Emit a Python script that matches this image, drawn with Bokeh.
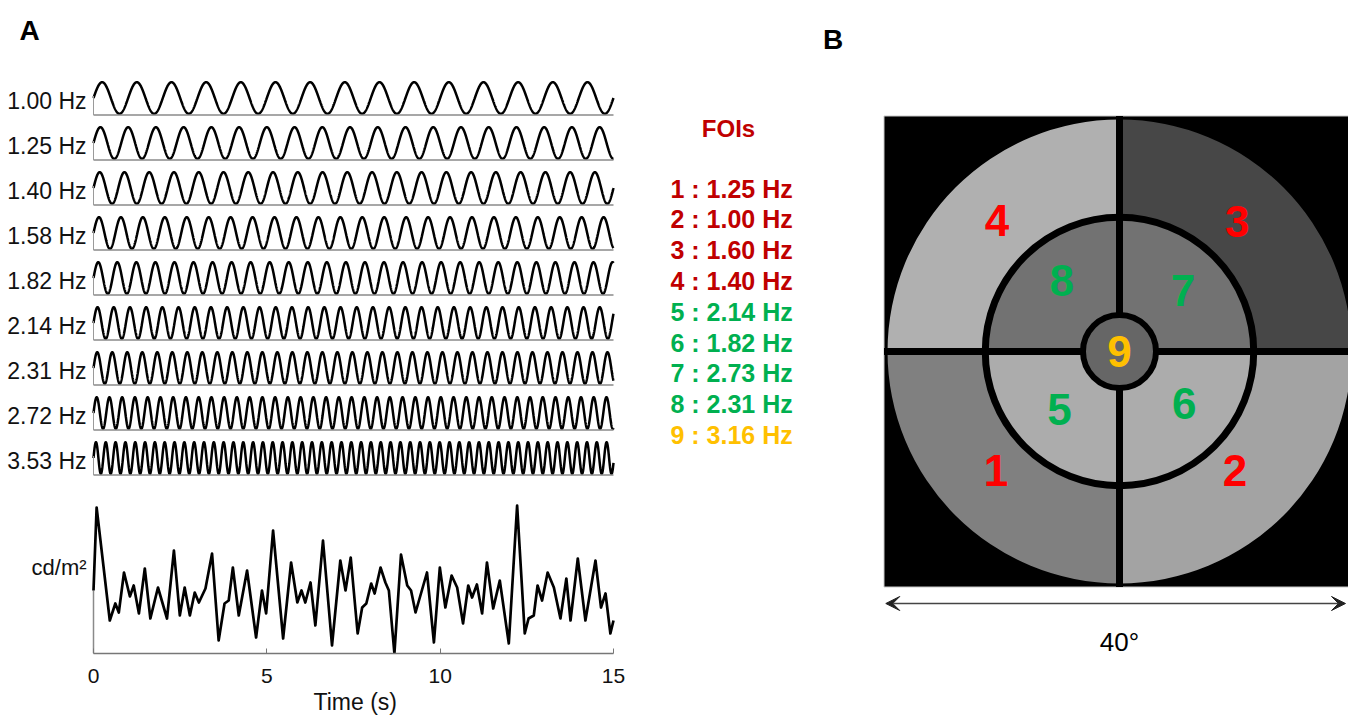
import numpy as np
from bokeh.plotting import figure
from bokeh.layouts import row
from bokeh.models import Range1d, FixedTicker, ColumnDataSource, Arrow, VeeHead, Title
from bokeh.core.properties import value
from bokeh.embed import file_html
from bokeh.resources import INLINE

FONT = "Liberation Sans"

# ---------------- Panel A data ----------------
stim_freqs = [1.00, 1.25, 1.40, 1.58, 1.82, 2.14, 2.31, 2.72, 3.53]
stim_labels = ["%.2f Hz" % f for f in stim_freqs]
duration = 15
time_ticks = [0, 5, 10, 15]

# luminance trace (arbitrary units above the axis)
trace_t = [0.00, 0.09, 0.47, 0.63, 0.73, 0.88, 1.05, 1.16, 1.31, 1.48, 1.64, 1.86,
           2.12, 2.32, 2.49, 2.63, 2.78, 2.92, 3.04, 3.23, 3.42, 3.61, 3.78, 3.90,
           4.02, 4.19, 4.43, 4.69, 4.86, 4.98, 5.18, 5.47, 5.70, 5.88, 6.00, 6.11,
           6.26, 6.40, 6.62, 6.88, 7.12, 7.27, 7.42, 7.62, 7.75, 7.87, 8.01, 8.11,
           8.28, 8.42, 8.52, 8.68, 8.87, 9.05, 9.16, 9.29, 9.62, 9.82, 9.99, 10.15,
           10.33, 10.49, 10.66, 10.81, 10.92, 11.06, 11.21, 11.35, 11.53, 11.72, 11.98,
           12.22, 12.44, 12.55, 12.70, 12.81, 12.94, 13.10, 13.28, 13.47, 13.64, 13.76,
           13.97, 14.19, 14.48, 14.64, 14.77, 14.91, 15.00]
trace_v = [63, 146, 33, 50, 41, 81, 57, 68, 40, 85, 35, 66,
           35, 103, 38, 66, 38, 61, 51, 65, 100, 13, 50, 53,
           86, 38, 83, 16, 63, 40, 123, 15, 91, 51, 63, 51,
           71, 28, 113, 8, 93, 63, 96, 20, 46, 50, 70, 60,
           86, 71, 63, 0, 99, 68, 63, 41, 81, 11, 86, 46,
           78, 66, 30, 68, 56, 69, 40, 91, 45, 73, 10,
           148, 20, 35, 38, 68, 53, 81, 66, 35, 75, 33,
           95, 33, 93, 46, 60, 20, 33]

# ---------------- Panel B data ----------------
foi_region = [1, 2, 3, 4, 5, 6, 7, 8, 9]
foi_freq = [1.25, 1.00, 1.60, 1.40, 2.14, 1.82, 2.73, 2.31, 3.16]
foi_list_color = ["#c00000"] * 4 + ["#00b050"] * 4 + ["#ffc000"]
region_num_color = ["#ff0000"] * 4 + ["#00b050"] * 4 + ["#ffc000"]
region_gray = ["#808080", "#a3a3a3", "#474747", "#b0b0b0",
               "#acacac", "#acacac", "#727272", "#727272", "#666666"]
field_deg = 40
r_center, r_mid, r_outer = 3.1, 11.4, 19.7

# ---------------- layout constants ----------------
H = 715
A_W = 640
F = 653                      # expected frame height (frame bottom = axis line)
PX_PER_S = 520 / 15.0
t_left = -93 / PX_PER_S
t_right = t_left + A_W / PX_PER_S

def ya(page_y):
    return F - page_y

pa = figure(width=A_W, height=H, x_range=Range1d(t_left, t_right),
            y_range=Range1d(0, F), output_backend="svg",
            toolbar_location=None, y_axis_location=None, min_border=0,
            outline_line_color=None)
pa.grid.visible = False

amp = 15.8
centers = [ya(97.5 + 45.0 * i) for i in range(len(stim_freqs))]
t = np.linspace(0, duration, 4000)
pa.multi_line([t] * len(stim_freqs),
              [c + amp * np.sin(2 * np.pi * f * t) for c, f in zip(centers, stim_freqs)],
              line_color="black", line_width=2.5)
base = [c - amp - 1.2 for c in centers]
pa.segment(x0=[0] * 9, y0=base, x1=[duration] * 9, y1=base,
           line_color="#8a8a8a", line_width=1.5)
pa.segment(x0=[0] * 9, y0=base, x1=[0] * 9, y1=[c + 2 for c in centers],
           line_color="#9a9a9a", line_width=1)
pa.text(x=[-0.2] * 9, y=[c - 3 for c in centers], text=stim_labels,
        text_align="right", text_baseline="middle", text_font=value(FONT),
        text_font_size="23px", text_color="#111111")

pa.segment(x0=[0], y0=[0], x1=[0], y1=[trace_v[0]], line_color="#8a8a8a", line_width=1.5)
pa.line(trace_t, trace_v, line_color="black", line_width=2.7, line_join="round")
pa.text(x=[-0.2], y=[ya(567)], text=["cd/m²"], text_align="right", text_baseline="middle",
        text_font=value(FONT), text_font_size="22px", text_color="#111111")
pa.text(x=[(29 - 93) / PX_PER_S], y=[ya(30)], text=["A"], text_align="center",
        text_baseline="middle", text_font=value(FONT), text_font_size="28px",
        text_font_style="bold", text_color="black")

xa = pa.xaxis[0]
xa.ticker = FixedTicker(ticks=time_ticks)
xa.bounds = (0, duration)
xa.axis_line_color = "#777777"
xa.axis_line_width = 1.5
xa.major_tick_in = 5
xa.major_tick_out = 0
xa.major_tick_line_color = "#777777"
xa.minor_tick_line_color = None
xa.major_label_standoff = 15
xa.major_label_text_font = FONT
xa.major_label_text_font_size = "21px"
xa.major_label_text_color = "#111111"
pa.add_layout(Title(text="Time (s)", align="left", offset=313, text_font=FONT,
                    text_font_size="23px", text_font_style="normal",
                    text_color="#111111", standoff=2), "below")

# ---------------- Panel B ----------------
B_W = 708
PX_PER_DEG = 471 / 40.0
cx_px, cy_px = 1119 - A_W, 351

def xb(page_x):
    return (page_x - 1119) / PX_PER_DEG

def yb(page_y):
    return (351 - page_y) / PX_PER_DEG

pb = figure(width=B_W, height=H,
            x_range=Range1d(-cx_px / PX_PER_DEG, (B_W - cx_px) / PX_PER_DEG),
            y_range=Range1d(-(F - cy_px) / PX_PER_DEG, cy_px / PX_PER_DEG),
            output_backend="svg", toolbar_location=None, min_border=0,
            outline_line_color=None, x_axis_location=None, y_axis_location=None)
pb.grid.visible = False

half = field_deg / 2
pb.rect(x=[0], y=[0], width=field_deg, height=field_deg, fill_color="black",
        line_color="#c8c8c8", line_width=1)

quad = {1: (np.pi, 1.5 * np.pi), 2: (1.5 * np.pi, 2 * np.pi),
        3: (0, 0.5 * np.pi), 4: (0.5 * np.pi, np.pi)}
outer = ColumnDataSource(dict(
    start=[quad[k][0] for k in range(1, 5)], end=[quad[k][1] for k in range(1, 5)],
    color=region_gray[0:4]))
pb.annular_wedge(x=0, y=0, inner_radius=r_mid, outer_radius=r_outer,
                 start_angle="start", end_angle="end", fill_color="color",
                 line_color=None, source=outer)
inner = ColumnDataSource(dict(
    start=[quad[k][0] for k in range(1, 5)], end=[quad[k][1] for k in range(1, 5)],
    color=region_gray[4:8]))
pb.wedge(x=0, y=0, radius=r_mid, start_angle="start", end_angle="end",
         fill_color="color", line_color=None, source=inner)

pb.segment(x0=[-half, 0], y0=[0, -half], x1=[half, 0], y1=[0, half],
           line_color="black", line_width=7)
pb.circle(x=[0], y=[0], radius=r_mid, fill_color=None, line_color="black", line_width=7)
pb.circle(x=[0], y=[0], radius=r_center, fill_color=region_gray[8],
          line_color="black", line_width=6)

# region number positions (layout)
num_x = [-10.5, 9.8, 10.0, -10.4, -5.1, 5.5, 5.4, -4.9, 0.0]
num_y = [-10.1, -10.1, 11.0, 11.1, -4.9, -4.4, 5.2, 6.0, 0.0]
pb.text(x=num_x, y=num_y, text=[str(r) for r in foi_region], text_align="center",
        text_baseline="middle", text_font=value(FONT), text_font_size="44px",
        text_font_style="bold", text_color=region_num_color)

# FOI list
pb.text(x=[xb(728)], y=[yb(128)], text=["FOIs"],
        text_align="center", text_baseline="middle", text_font=value(FONT),
        text_font_size="24px", text_font_style="bold", text_color="#c00000")
pb.text(x=[xb(670)] * 9, y=[yb(188 + 30.8 * i) for i in range(9)],
        text=["%d : %.2f Hz" % (r, f) for r, f in zip(foi_region, foi_freq)],
        text_align="left", text_baseline="middle", text_font=value(FONT),
        text_font_size="25px", text_font_style="bold", text_color=foi_list_color)

arrow_y = yb(603)
pb.add_layout(Arrow(start=VeeHead(size=14, fill_color="#222222", line_color="#222222"),
                    end=VeeHead(size=14, fill_color="#222222", line_color="#222222"),
                    x_start=-half + 0.15, y_start=arrow_y,
                    x_end=xb(1345), y_end=arrow_y,
                    line_color="#444444", line_width=1.5))
pb.text(x=[0], y=[yb(641)], text=["%d°" % field_deg],
        text_align="center", text_baseline="middle", text_font=value(FONT),
        text_font_size="26px", text_color="black")
pb.text(x=[xb(832.5)], y=[yb(39)], text=["B"],
        text_align="center", text_baseline="middle", text_font=value(FONT),
        text_font_size="28px", text_font_style="bold", text_color="black")

layout = row(pa, pb)
open("out.html", "w").write(file_html(layout, INLINE))
